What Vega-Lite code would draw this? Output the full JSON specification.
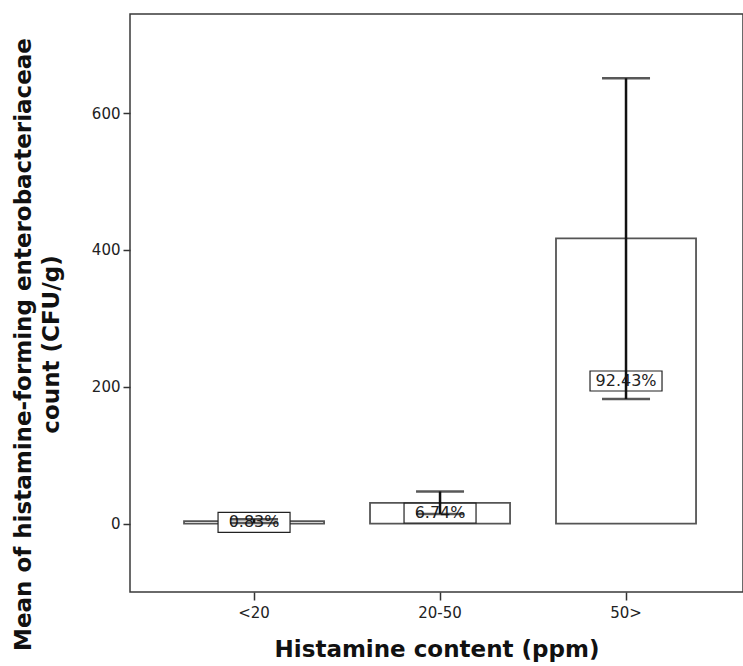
{
  "$schema": "https://vega.github.io/schema/vega-lite/v6.json",
  "autosize": {"type": "none"},
  "padding": {"left": 130, "top": 14, "right": 0, "bottom": 74},
  "width": 613,
  "height": 578,
  "background": "white",
  "config": {
    "view": {"stroke": "#3a3a3a", "strokeWidth": 1.5},
    "font": "DejaVu Sans"
  },
  "data": {
    "values": [
      {"group": "<20", "mean": 3.75, "lower": 1, "upper": 6.5, "pct": "0.83%"},
      {"group": "20-50", "mean": 30.4, "lower": 14, "upper": 47, "pct": "6.74%"},
      {"group": "50>", "mean": 417, "lower": 182, "upper": 651, "pct": "92.43%"}
    ]
  },
  "encoding": {
    "x": {
      "field": "group",
      "type": "nominal",
      "sort": ["<20", "20-50", "50>"],
      "scale": {"paddingInner": 0.247, "paddingOuter": 0.2715, "align": 0.535},
      "axis": {
        "title": "Histamine content (ppm)",
        "titleFont": "DejaVu Sans",
        "titleFontWeight": "bold",
        "titleFontSize": 23,
        "titleColor": "#111",
        "titlePadding": 18,
        "labelAngle": 0,
        "labelFont": "DejaVu Sans",
        "labelFontSize": 15,
        "labelColor": "#222",
        "labelPadding": 5,
        "tickSize": 8,
        "tickWidth": 1.5,
        "tickColor": "#333",
        "domain": false,
        "grid": false
      }
    }
  },
  "layer": [
    {
      "mark": {"type": "bar", "fill": "white", "stroke": "#555", "strokeWidth": 1.8},
      "encoding": {
        "y": {
          "field": "mean",
          "type": "quantitative",
          "scale": {"domain": [-100, 745], "nice": false, "zero": false},
          "axis": {
            "title": ["Mean of histamine-forming enterobacteriaceae", "count (CFU/g)"],
            "titleFont": "DejaVu Sans",
            "titleFontWeight": "bold",
            "titleFontSize": 23,
            "titleColor": "#111",
            "titleAngle": -90,
            "titleAlign": "center",
            "titleBaseline": "middle",
            "titleLineHeight": 28,
            "titleX": -107,
            "titleY": 330,
            "values": [0, 200, 400, 600],
            "labelFont": "DejaVu Sans",
            "labelFontSize": 15,
            "labelColor": "#222",
            "labelPadding": 3,
            "tickSize": 7,
            "tickWidth": 1.5,
            "tickColor": "#333",
            "domain": false,
            "grid": false
          }
        },
        "y2": {"datum": 0}
      }
    },
    {
      "encoding": {
        "y": {
          "field": "mean",
          "type": "quantitative",
          "scale": {"domain": [-200, 1490], "nice": false, "zero": false},
          "axis": null
        }
      },
      "layer": [
        {
          "mark": {
            "type": "point",
            "shape": "M-3.6,-1H3.6V1H-3.6Z",
            "size": 400,
            "filled": true,
            "fill": "white",
            "stroke": "#222",
            "strokeWidth": 1.2,
            "opacity": 1
          }
        },
        {
          "mark": {"type": "text", "fontSize": 16, "font": "DejaVu Sans", "color": "#222", "baseline": "middle"},
          "encoding": {"text": {"field": "pct"}}
        }
      ]
    },
    {
      "encoding": {
        "y": {
          "field": "lower",
          "type": "quantitative",
          "scale": {"domain": [-100, 745], "nice": false, "zero": false},
          "axis": null
        }
      },
      "layer": [
        {
          "mark": {"type": "rule", "color": "#111", "strokeWidth": 2.5},
          "encoding": {"y2": {"field": "upper"}}
        },
        {
          "mark": {"type": "tick", "color": "#111", "thickness": 2.5, "size": 48}
        },
        {
          "mark": {"type": "tick", "color": "#111", "thickness": 2.5, "size": 48},
          "encoding": {"y": {"field": "upper", "type": "quantitative"}}
        }
      ]
    }
  ],
  "resolve": {"scale": {"y": "independent"}}
}
